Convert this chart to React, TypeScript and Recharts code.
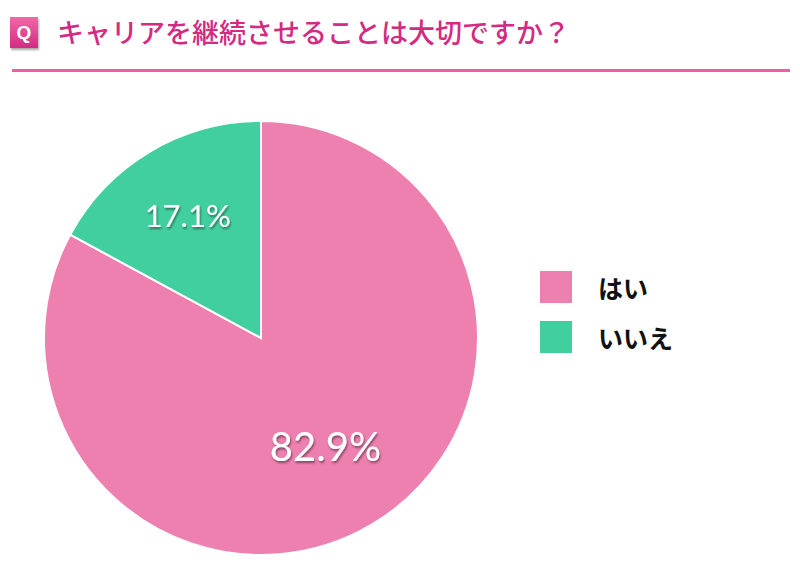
import React from 'react';
import { PieChart, Pie, Cell, Legend } from 'recharts';

const answers = ['はい', 'いいえ'];
const shares = [82.9, 17.1];
const sliceColors = ['#ee80b0', '#42cf9f'];

const title = 'キャリアを継続させることは大切ですか？';

const data = answers.map((name, i) => ({ name, value: shares[i] }));

const RAD = Math.PI / 180;

const renderLabel = (props: any) => {
  const { cx, cy, midAngle, outerRadius, index, value } = props;
  const r = outerRadius * (index === 0 ? 0.58 : 0.66);
  const x = cx + r * Math.cos(-midAngle * RAD);
  const y = cy + r * Math.sin(-midAngle * RAD);
  return (
    <text
      x={x}
      y={y}
      fill="#fff"
      textAnchor="middle"
      dominantBaseline="central"
      fontSize={index === 0 ? 40 : 31}
      fontFamily="Lato, 'Noto Sans', sans-serif"
      filter="url(#txtShadow)"
    >
      {value.toFixed(1)}%
    </text>
  );
};

const renderLegend = () => (
  <div>
    {answers.map((a, i) => (
      <div key={a} style={{ display: 'flex', alignItems: 'center', height: 32, marginBottom: 18 }}>
        <div style={{ width: 32, height: 32, background: sliceColors[i] }} />
        <span
          style={{
            marginLeft: 26,
            fontSize: 25,
            fontWeight: 700,
            color: '#111',
            fontFamily: "'Noto Sans CJK JP', sans-serif",
          }}
        >
          {a}
        </span>
      </div>
    ))}
  </div>
);

export default function App() {
  return (
    <div style={{ position: 'absolute', left: 0, top: 0, width: 800, height: 568, background: '#fff' }}>
      <div
        style={{
          position: 'absolute',
          left: 10,
          top: 17,
          width: 28,
          height: 31,
          background: 'linear-gradient(#ee6aa8, #d42a82)',
          boxShadow: '1px 2px 2px rgba(0,0,0,0.35)',
          color: '#fff',
          fontFamily: 'Arial, sans-serif',
          fontWeight: 700,
          fontSize: 19,
          textAlign: 'center',
          lineHeight: '31px',
        }}
      >
        Q
      </div>
      <div
        style={{
          position: 'absolute',
          left: 57,
          top: 14,
          fontSize: 27,
          fontWeight: 500,
          color: '#d42a82',
          fontFamily: "'Noto Sans CJK JP', sans-serif",
          lineHeight: '36px',
          whiteSpace: 'nowrap',
        }}
      >
        {title}
      </div>
      <div style={{ position: 'absolute', left: 12, top: 69, width: 778, height: 3, background: '#ee5fa0' }} />
      <PieChart width={800} height={568} style={{ position: 'absolute', left: 0, top: 0 }}>
        <defs>
          <filter id="txtShadow" x="-20%" y="-20%" width="140%" height="160%">
            <feDropShadow dx="1" dy="2" stdDeviation="1" floodColor="#000" floodOpacity="0.45" />
          </filter>
        </defs>
        <Pie
          data={data}
          dataKey="value"
          nameKey="name"
          cx={256}
          cy={333}
          outerRadius={217}
          startAngle={90}
          endAngle={-270}
          stroke="#fff"
          strokeWidth={2}
          label={renderLabel}
          labelLine={false}
          isAnimationActive={false}
        >
          {data.map((d, i) => (
            <Cell key={d.name} fill={sliceColors[i]} />
          ))}
        </Pie>
        <Legend content={renderLegend} wrapperStyle={{ left: 540, top: 271, width: 200 }} />
      </PieChart>
    </div>
  );
}
